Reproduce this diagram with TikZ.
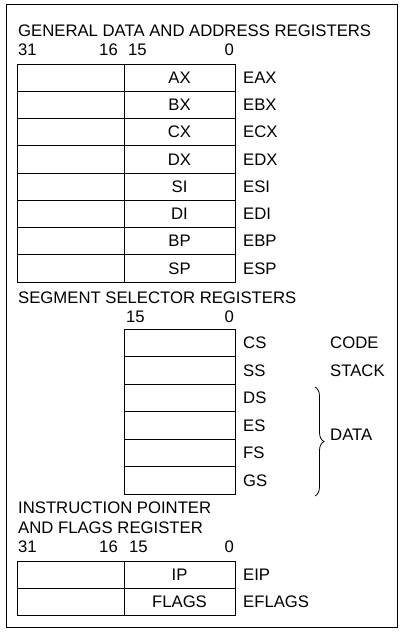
\documentclass[tikz,border=0pt]{standalone}
\usepackage{fontspec}
\setmainfont{Liberation Sans}
\usetikzlibrary{decorations.pathreplacing}
\begin{document}
\begin{tikzpicture}[x=1pt,y=-1pt,
  every node/.style={font=\fontsize{16.7}{19}\selectfont, inner sep=0pt},
  cell/.style={draw, line width=0.8pt, inner sep=0pt, outer sep=0pt, anchor=north west},
  hicell/.style={cell, minimum width=107pt},
  locell/.style={cell, minimum width=111pt},
  txt/.style={anchor=base west},
  txtr/.style={anchor=base east},
  rname/.style={anchor=west},
  frame/.style={draw, line width=0.8pt}]
\useasboundingbox (0,0) rectangle (402,633);
\draw[frame] (6.5,4.5) rectangle (397,627);

% general data and address registers
\node[txt] (gtitle) at (18,36) {GENERAL DATA AND ADDRESS REGISTERS};
\node[txt] (g31) at (18,55) {31};
\node[txtr] (g16) at (118,55) {16};
\node[txt] (g15) at (128,55) {15};
\node[txtr] (g0) at (234,55) {0};
\foreach \r [count=\i from 0] in {AX,BX,CX,DX,SI,DI,BP,SP} {
  \node[hicell, minimum height=27.25pt] (gh\i) at (17,64+27.25*\i) {};
  \node[locell, minimum height=27.25pt] (gl\i) at (124,64+27.25*\i) {\r};
  \node[rname] (ge\i) at ([xshift=8pt]gl\i.east) {E\r};
}

% segment selector registers
\node[txt] (stitle) at (18,303) {SEGMENT SELECTOR REGISTERS};
\node[txt] (s15) at (126,322) {15};
\node[txtr] (s0) at (234,322) {0};
\foreach \r [count=\i from 0] in {CS,SS,DS,ES,FS,GS} {
  \node[locell, minimum height=27.5pt] (sl\i) at (124,329+27.5*\i) {};
  \node[rname] (sn\i) at ([xshift=8pt]sl\i.east) {\r};
}
\node[rname] (code) at (330,0 |- sn0.west) {CODE};
\node[rname] (stack) at (330,0 |- sn1.west) {STACK};
\coordinate (btop) at (315,387);
\coordinate (bbot) at (315,496);
\draw[line width=0.8pt, decorate, decoration={brace, amplitude=9pt}] (btop) -- (bbot);
\node[rname] (data) at (330,435) {DATA};

% instruction pointer and flags register
\node[txt] (ititle1) at (18,513.5) {INSTRUCTION POINTER};
\node[txt] (ititle2) at (18,533) {AND FLAGS REGISTER};
\node[txt] (i31) at (18,552.5) {31};
\node[txtr] (i16) at (118,552.5) {16};
\node[txt] (i15) at (129,552.5) {15};
\node[txtr] (i0) at (234,552.5) {0};
\foreach \r/\e [count=\i from 0] in {IP/EIP,FLAGS/EFLAGS} {
  \node[hicell, minimum height=27pt] (ih\i) at (17,561+27*\i) {};
  \node[locell, minimum height=27pt] (il\i) at (124,561+27*\i) {\r};
  \node[rname] (ie\i) at ([xshift=8pt]il\i.east) {\e};
}
\end{tikzpicture}
\end{document}
